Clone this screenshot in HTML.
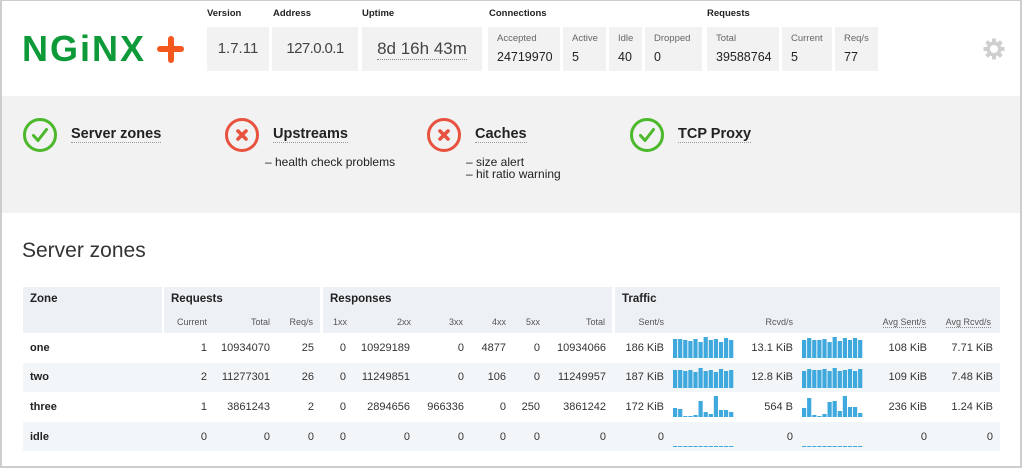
<!DOCTYPE html>
<html><head><meta charset="utf-8"><style>
*{box-sizing:border-box}
body{margin:0;width:1024px;height:470px;position:relative;overflow:hidden;background:#fff;font-family:"Liberation Sans",Arial,sans-serif;color:#333}
.a{position:absolute;white-space:nowrap}
.frame{position:absolute;left:0;top:0;width:1022px;height:468px;border-style:solid;border-color:#cdcdcd;border-width:1px 2px 2px 2px}
.hl{position:absolute;font-weight:bold;font-size:9.5px;color:#222;height:14px;line-height:14px;top:7px}
.box{position:absolute;top:27px;height:44px;background:#f2f2f2}
.big{position:absolute;left:0;right:0;text-align:center;top:12px;height:20px;line-height:20px;font-size:15px;color:#444;white-space:nowrap}
.cl{position:absolute;left:9px;top:5px;font-size:9.5px;color:#666;line-height:14px}
.cv{position:absolute;left:9px;top:22px;font-size:12.5px;color:#222;line-height:16px}
.st{position:absolute;font-weight:bold;font-size:14.5px;color:#222;height:18px;line-height:18px;top:125px;border-bottom:1px dotted #999;padding-bottom:0}
.sub{position:absolute;font-size:12px;color:#222;line-height:12px}
.hg{position:absolute;top:287px;height:46px;background:#edf1f5}
.g{position:absolute;top:291px;height:16px;line-height:16px;font-weight:bold;font-size:11.5px;color:#222}
.s{position:absolute;top:315px;width:100px;text-align:right;height:14px;line-height:14px;font-size:9px;color:#555}
.r{position:absolute;width:100px;text-align:right;height:16px;line-height:16px;font-size:11px;color:#333}
.z{position:absolute;left:30px;height:16px;line-height:16px;font-size:11px;font-weight:bold;color:#222}
.row{position:absolute;left:23px;width:977px}
svg.sp{position:absolute}
</style></head><body>
<div class="frame"></div>

<!-- logo -->
<div class="a" style="left:22px;top:31px;font-weight:bold;font-size:36px;line-height:36px;color:#0f9a3a;letter-spacing:2px">NGiNX</div>
<div class="a" style="left:157px;top:46px;width:27px;height:6px;border-radius:3px;background:#f4581f"></div>
<div class="a" style="left:167.5px;top:35.5px;width:6px;height:27px;border-radius:3px;background:#f4581f"></div>

<!-- header labels -->
<div class="hl" style="left:207px">Version</div>
<div class="hl" style="left:273px">Address</div>
<div class="hl" style="left:362px">Uptime</div>
<div class="hl" style="left:489px">Connections</div>
<div class="hl" style="left:707px">Requests</div>

<div class="box" style="left:207px;width:62px"><div class="big">1.7.11</div></div>
<div class="box" style="left:272px;width:86px"><div class="big" style="letter-spacing:-0.6px">127.0.0.1</div></div>
<div class="box" style="left:362px;width:120px"><div class="big" style="font-size:17px"><span style="border-bottom:1px dotted #888;padding-bottom:1px">8d 16h 43m</span></div></div>

<div class="box" style="left:488px;width:72px"><div class="cl">Accepted</div><div class="cv">24719970</div></div>
<div class="box" style="left:563px;width:43px"><div class="cl">Active</div><div class="cv">5</div></div>
<div class="box" style="left:609px;width:33px"><div class="cl">Idle</div><div class="cv">40</div></div>
<div class="box" style="left:645px;width:57px"><div class="cl">Dropped</div><div class="cv">0</div></div>
<div class="box" style="left:707px;width:72px"><div class="cl">Total</div><div class="cv">39588764</div></div>
<div class="box" style="left:782px;width:50px"><div class="cl">Current</div><div class="cv">5</div></div>
<div class="box" style="left:835px;width:43px"><div class="cl">Req/s</div><div class="cv">77</div></div>

<!-- gear -->
<svg class="a" style="left:983px;top:38px" width="22" height="22" viewBox="-11 -11 22 22">
<g fill="#cfcfcf">
<rect x="-2" y="-10.5" width="4" height="21"/>
<rect x="-2" y="-10.5" width="4" height="21" transform="rotate(45)"/>
<rect x="-2" y="-10.5" width="4" height="21" transform="rotate(90)"/>
<rect x="-2" y="-10.5" width="4" height="21" transform="rotate(135)"/>
<circle r="7.5"/></g>
<circle r="4" fill="#fff"/>
</svg>

<!-- status bar -->
<div class="a" style="left:2px;top:96px;width:1018px;height:117px;background:#f2f2f2"></div>

<svg class="a" style="left:22px;top:117px" width="36" height="36" viewBox="0 0 36 36"><circle cx="18" cy="18" r="15.5" fill="none" stroke="#4cb82b" stroke-width="3"/><path d="M11.5 18.5 L16 23.5 L24.5 12.5" fill="none" stroke="#4cb82b" stroke-width="3" stroke-linecap="round" stroke-linejoin="round"/></svg>
<div class="st" style="left:71px">Server zones</div>

<svg class="a" style="left:224px;top:117px" width="36" height="36" viewBox="0 0 36 36"><circle cx="18" cy="18" r="15.5" fill="none" stroke="#e8533f" stroke-width="3"/><path d="M14 14 L22 22 M22 14 L14 22" fill="none" stroke="#e8533f" stroke-width="3.6" stroke-linecap="round"/></svg>
<div class="st" style="left:273px">Upstreams</div>
<div class="sub" style="left:265px;top:156px">– health check problems</div>

<svg class="a" style="left:426px;top:117px" width="36" height="36" viewBox="0 0 36 36"><circle cx="18" cy="18" r="15.5" fill="none" stroke="#e8533f" stroke-width="3"/><path d="M14 14 L22 22 M22 14 L14 22" fill="none" stroke="#e8533f" stroke-width="3.6" stroke-linecap="round"/></svg>
<div class="st" style="left:475px">Caches</div>
<div class="sub" style="left:466px;top:156px">– size alert</div>
<div class="sub" style="left:466px;top:168px">– hit ratio warning</div>

<svg class="a" style="left:629px;top:117px" width="36" height="36" viewBox="0 0 36 36"><circle cx="18" cy="18" r="15.5" fill="none" stroke="#4cb82b" stroke-width="3"/><path d="M11.5 18.5 L16 23.5 L24.5 12.5" fill="none" stroke="#4cb82b" stroke-width="3" stroke-linecap="round" stroke-linejoin="round"/></svg>
<div class="st" style="left:678px">TCP Proxy</div>

<!-- section title -->
<div class="a" style="left:22px;top:238px;font-size:21px;line-height:26px;color:#333">Server zones</div>

<!-- table header -->
<div class="hg" style="left:23px;width:139px"></div>
<div class="hg" style="left:164px;width:156px"></div>
<div class="hg" style="left:323px;width:289px"></div>
<div class="hg" style="left:615px;width:385px"></div>
<div class="g" style="left:30px">Zone</div>
<div class="g" style="left:171px">Requests</div>
<div class="g" style="left:330px">Responses</div>
<div class="g" style="left:622px">Traffic</div>

<div class="s" style="left:107px">Current</div>
<div class="s" style="left:170px">Total</div>
<div class="s" style="left:213px">Req/s</div>
<div class="s" style="left:247px">1xx</div>
<div class="s" style="left:311px">2xx</div>
<div class="s" style="left:363px">3xx</div>
<div class="s" style="left:406px">4xx</div>
<div class="s" style="left:440px">5xx</div>
<div class="s" style="left:505px">Total</div>
<div class="s" style="left:564px">Sent/s</div>
<div class="s" style="left:693px">Rcvd/s</div>
<div class="s" style="left:826px"><span style="border-bottom:1px dotted #888">Avg Sent/s</span></div>
<div class="s" style="left:891px"><span style="border-bottom:1px dotted #888">Avg Rcvd/s</span></div>

<!-- rows bg -->
<div class="row" style="top:363px;height:29px;background:#f3f6f9"></div>
<div class="row" style="top:422px;height:29px;background:#f3f6f9"></div>

<!-- row one -->
<div class="z" style="top:340px">one</div>
<div class="r" style="top:340px;left:107px">1</div>
<div class="r" style="top:340px;left:170px">10934070</div>
<div class="r" style="top:340px;left:214px">25</div>
<div class="r" style="top:340px;left:246px">0</div>
<div class="r" style="top:340px;left:310px">10929189</div>
<div class="r" style="top:340px;left:364px">0</div>
<div class="r" style="top:340px;left:406px">4877</div>
<div class="r" style="top:340px;left:440px">0</div>
<div class="r" style="top:340px;left:506px">10934066</div>
<div class="r" style="top:340px;left:564px">186 KiB</div>
<div class="r" style="top:340px;left:693px">13.1 KiB</div>
<div class="r" style="top:340px;left:827px">108 KiB</div>
<div class="r" style="top:340px;left:893px">7.71 KiB</div>

<!-- row two -->
<div class="z" style="top:369px">two</div>
<div class="r" style="top:369px;left:107px">2</div>
<div class="r" style="top:369px;left:170px">11277301</div>
<div class="r" style="top:369px;left:214px">26</div>
<div class="r" style="top:369px;left:246px">0</div>
<div class="r" style="top:369px;left:310px">11249851</div>
<div class="r" style="top:369px;left:364px">0</div>
<div class="r" style="top:369px;left:406px">106</div>
<div class="r" style="top:369px;left:440px">0</div>
<div class="r" style="top:369px;left:506px">11249957</div>
<div class="r" style="top:369px;left:564px">187 KiB</div>
<div class="r" style="top:369px;left:693px">12.8 KiB</div>
<div class="r" style="top:369px;left:827px">109 KiB</div>
<div class="r" style="top:369px;left:893px">7.48 KiB</div>

<!-- row three -->
<div class="z" style="top:399px">three</div>
<div class="r" style="top:399px;left:107px">1</div>
<div class="r" style="top:399px;left:170px">3861243</div>
<div class="r" style="top:399px;left:214px">2</div>
<div class="r" style="top:399px;left:246px">0</div>
<div class="r" style="top:399px;left:310px">2894656</div>
<div class="r" style="top:399px;left:364px">966336</div>
<div class="r" style="top:399px;left:406px">0</div>
<div class="r" style="top:399px;left:440px">250</div>
<div class="r" style="top:399px;left:506px">3861242</div>
<div class="r" style="top:399px;left:564px">172 KiB</div>
<div class="r" style="top:399px;left:693px">564 B</div>
<div class="r" style="top:399px;left:827px">236 KiB</div>
<div class="r" style="top:399px;left:893px">1.24 KiB</div>

<!-- row idle -->
<div class="z" style="top:429px">idle</div>
<div class="r" style="top:429px;left:107px">0</div>
<div class="r" style="top:429px;left:170px">0</div>
<div class="r" style="top:429px;left:214px">0</div>
<div class="r" style="top:429px;left:246px">0</div>
<div class="r" style="top:429px;left:310px">0</div>
<div class="r" style="top:429px;left:364px">0</div>
<div class="r" style="top:429px;left:406px">0</div>
<div class="r" style="top:429px;left:440px">0</div>
<div class="r" style="top:429px;left:506px">0</div>
<div class="r" style="top:429px;left:564px">0</div>
<div class="r" style="top:429px;left:693px">0</div>
<div class="r" style="top:429px;left:827px">0</div>
<div class="r" style="top:429px;left:893px">0</div>

<!-- sparklines -->
<svg class="sp" style="left:673px;top:336px" width="62" height="22"><g fill="#3fa8dd">
<rect x="0" y="3" width="4.2" height="19"/><rect x="5.1" y="3" width="4.2" height="19"/><rect x="10.2" y="4" width="4.2" height="18"/><rect x="15.3" y="5" width="4.2" height="17"/><rect x="20.4" y="3" width="4.2" height="19"/><rect x="25.5" y="6" width="4.2" height="16"/><rect x="30.6" y="1" width="4.2" height="21"/><rect x="35.7" y="4" width="4.2" height="18"/><rect x="40.8" y="3" width="4.2" height="19"/><rect x="45.9" y="6" width="4.2" height="16"/><rect x="51" y="2" width="4.2" height="20"/><rect x="56.1" y="4" width="4.2" height="18"/></g></svg>
<svg class="sp" style="left:802px;top:336px" width="62" height="22"><g fill="#3fa8dd">
<rect x="0" y="4" width="4.2" height="18"/><rect x="5.1" y="2" width="4.2" height="20"/><rect x="10.2" y="4" width="4.2" height="18"/><rect x="15.3" y="4" width="4.2" height="18"/><rect x="20.4" y="3" width="4.2" height="19"/><rect x="25.5" y="6" width="4.2" height="16"/><rect x="30.6" y="1" width="4.2" height="21"/><rect x="35.7" y="5" width="4.2" height="17"/><rect x="40.8" y="2" width="4.2" height="20"/><rect x="45.9" y="4" width="4.2" height="18"/><rect x="51" y="2" width="4.2" height="20"/><rect x="56.1" y="4" width="4.2" height="18"/></g></svg>

<svg class="sp" style="left:673px;top:366px" width="62" height="22"><g fill="#3fa8dd">
<rect x="0" y="4" width="4.2" height="18"/><rect x="5.1" y="4" width="4.2" height="18"/><rect x="10.2" y="5" width="4.2" height="17"/><rect x="15.3" y="4" width="4.2" height="18"/><rect x="20.4" y="6" width="4.2" height="16"/><rect x="25.5" y="2" width="4.2" height="20"/><rect x="30.6" y="5" width="4.2" height="17"/><rect x="35.7" y="4" width="4.2" height="18"/><rect x="40.8" y="6" width="4.2" height="16"/><rect x="45.9" y="3" width="4.2" height="19"/><rect x="51" y="5" width="4.2" height="17"/><rect x="56.1" y="4" width="4.2" height="18"/></g></svg>
<svg class="sp" style="left:802px;top:366px" width="62" height="22"><g fill="#3fa8dd">
<rect x="0" y="5" width="4.2" height="17"/><rect x="5.1" y="3" width="4.2" height="19"/><rect x="10.2" y="4" width="4.2" height="18"/><rect x="15.3" y="4" width="4.2" height="18"/><rect x="20.4" y="3" width="4.2" height="19"/><rect x="25.5" y="5" width="4.2" height="17"/><rect x="30.6" y="2" width="4.2" height="20"/><rect x="35.7" y="5" width="4.2" height="17"/><rect x="40.8" y="4" width="4.2" height="18"/><rect x="45.9" y="3" width="4.2" height="19"/><rect x="51" y="5" width="4.2" height="17"/><rect x="56.1" y="3" width="4.2" height="19"/></g></svg>

<svg class="sp" style="left:673px;top:395px" width="62" height="22"><g fill="#3fa8dd">
<rect x="0" y="13" width="4.2" height="9"/><rect x="5.1" y="14" width="4.2" height="8"/><rect x="10.2" y="21" width="4.2" height="1"/><rect x="15.3" y="21" width="4.2" height="1"/><rect x="20.4" y="20" width="4.2" height="2"/><rect x="25.5" y="6" width="4.2" height="16"/><rect x="30.6" y="17" width="4.2" height="5"/><rect x="35.7" y="19" width="4.2" height="3"/><rect x="40.8" y="1" width="4.2" height="21"/><rect x="45.9" y="15" width="4.2" height="7"/><rect x="51" y="15" width="4.2" height="7"/><rect x="56.1" y="17" width="4.2" height="5"/></g></svg>
<svg class="sp" style="left:802px;top:395px" width="62" height="22"><g fill="#3fa8dd">
<rect x="0" y="13" width="4.2" height="9"/><rect x="5.1" y="3" width="4.2" height="19"/><rect x="10.2" y="20" width="4.2" height="2"/><rect x="15.3" y="21" width="4.2" height="1"/><rect x="20.4" y="19" width="4.2" height="3"/><rect x="25.5" y="7" width="4.2" height="15"/><rect x="30.6" y="6" width="4.2" height="16"/><rect x="35.7" y="16" width="4.2" height="6"/><rect x="40.8" y="1" width="4.2" height="21"/><rect x="45.9" y="12" width="4.2" height="10"/><rect x="51" y="12" width="4.2" height="10"/><rect x="56.1" y="18" width="4.2" height="4"/></g></svg>

<svg class="sp" style="left:673px;top:425px" width="62" height="22"><g fill="#3fa8dd">
<rect x="0" y="21" width="4.2" height="1"/><rect x="5.1" y="21" width="4.2" height="1"/><rect x="10.2" y="21" width="4.2" height="1"/><rect x="15.3" y="21" width="4.2" height="1"/><rect x="20.4" y="21" width="4.2" height="1"/><rect x="25.5" y="21" width="4.2" height="1"/><rect x="30.6" y="21" width="4.2" height="1"/><rect x="35.7" y="21" width="4.2" height="1"/><rect x="40.8" y="21" width="4.2" height="1"/><rect x="45.9" y="21" width="4.2" height="1"/><rect x="51" y="21" width="4.2" height="1"/><rect x="56.1" y="21" width="4.2" height="1"/></g></svg>
<svg class="sp" style="left:802px;top:425px" width="62" height="22"><g fill="#3fa8dd">
<rect x="0" y="21" width="4.2" height="1"/><rect x="5.1" y="21" width="4.2" height="1"/><rect x="10.2" y="21" width="4.2" height="1"/><rect x="15.3" y="21" width="4.2" height="1"/><rect x="20.4" y="21" width="4.2" height="1"/><rect x="25.5" y="21" width="4.2" height="1"/><rect x="30.6" y="21" width="4.2" height="1"/><rect x="35.7" y="21" width="4.2" height="1"/><rect x="40.8" y="21" width="4.2" height="1"/><rect x="45.9" y="21" width="4.2" height="1"/><rect x="51" y="21" width="4.2" height="1"/><rect x="56.1" y="21" width="4.2" height="1"/></g></svg>

</body></html>
